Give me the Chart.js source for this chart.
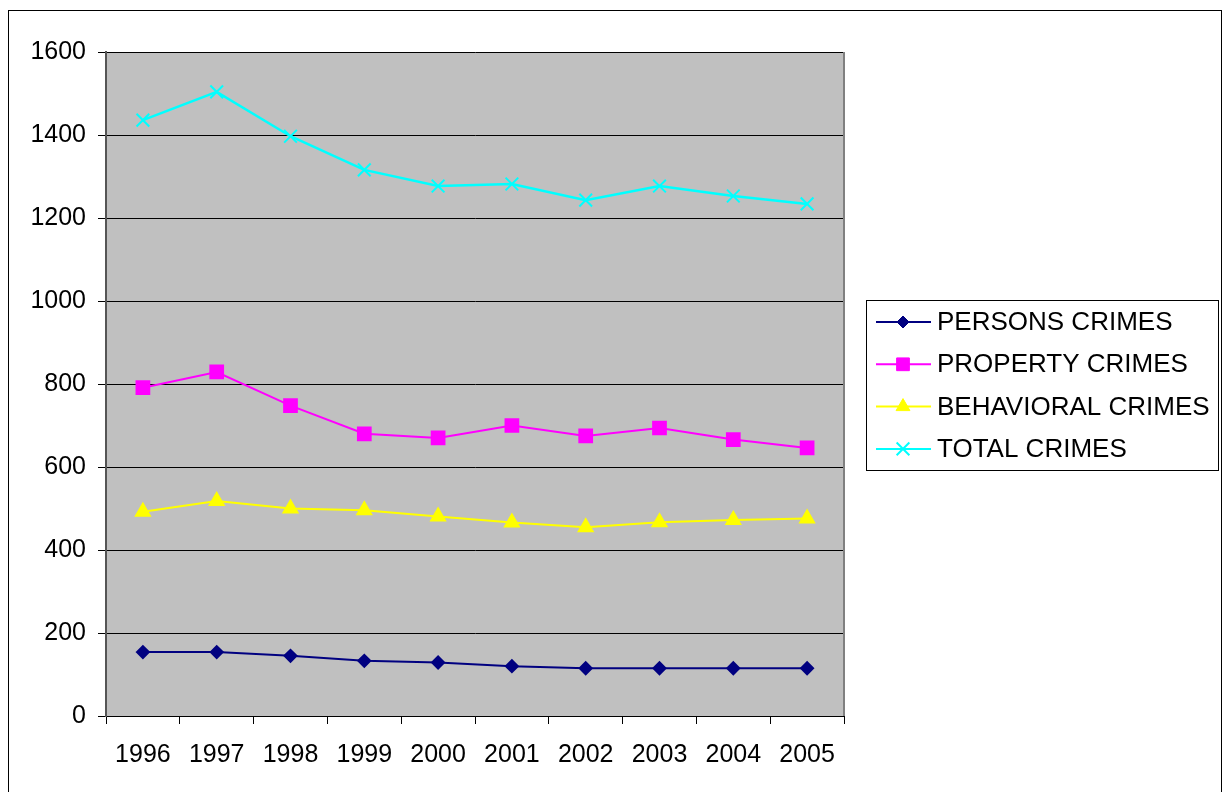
<!DOCTYPE html>
<html>
<head>
<meta charset="utf-8">
<script src="https://cdn.jsdelivr.net/npm/chart.js@4"></script>
<style>
  body { margin: 0; background: #fff; }
  canvas { display: block; }
</style>
</head>
<body>
<canvas id="grafico" width="1225" height="792"></canvas>
<script>
// dados
const anos = ['1996', '1997', '1998', '1999', '2000', '2001', '2002', '2003', '2004', '2005'];
const personsCrimes = [154, 154, 145, 133, 129, 120, 115, 115, 115, 115];
const propertyCrimes = [791, 829, 748, 680, 670, 700, 675, 694, 666, 646];
const behavioralCrimes = [492, 518, 500, 496, 481, 466, 455, 467, 472, 476];
const totalCrimes = [1436, 1504, 1397, 1316, 1277, 1282, 1243, 1277, 1253, 1234];
const marcasY = [0, 200, 400, 600, 800, 1000, 1200, 1400, 1600];

const fonte = 'Liberation Sans, Arial, sans-serif';

// fundo cinza, moldura e legenda desenhada a mao
const moldura = {
    id: 'moldura',
    beforeDraw(chart) {
        const ctx = chart.ctx;
        const a = chart.chartArea;
        ctx.save();
        ctx.fillStyle = '#fff';
        ctx.fillRect(0, 0, chart.width, chart.height);
        ctx.strokeStyle = '#000';
        ctx.lineWidth = 1;
        ctx.strokeRect(8.5, 10.5, 1213, 820);
        ctx.fillStyle = '#c0c0c0';
        ctx.fillRect(a.left, a.top, a.right - a.left, a.bottom - a.top);
        ctx.restore();
    },
    afterDraw(chart) {
        const ctx = chart.ctx;
        const a = chart.chartArea;
        ctx.save();
        ctx.strokeStyle = '#808080';
        ctx.lineWidth = 2;
        ctx.beginPath();
        ctx.moveTo(a.right, a.top);
        ctx.lineTo(a.right, a.bottom);
        ctx.stroke();

        // legenda
        ctx.fillStyle = '#fff';
        ctx.fillRect(866, 300, 352, 170);
        ctx.strokeStyle = '#000';
        ctx.lineWidth = 1;
        ctx.strokeRect(866.5, 300.5, 352, 170);
        ctx.font = '26px ' + fonte;
        ctx.textBaseline = 'middle';
        chart.data.datasets.forEach((ds, i) => {
            const y = 322 + i * 42.3;
            ctx.strokeStyle = ds.borderColor;
            ctx.lineWidth = 2;
            ctx.beginPath();
            ctx.moveTo(876, y);
            ctx.lineTo(931, y);
            ctx.stroke();
            ctx.fillStyle = ds.pointBackgroundColor;
            ctx.strokeStyle = ds.pointBorderColor;
            ctx.lineWidth = ds.pointBorderWidth || 1;
            Chart.helpers.drawPoint(ctx, {
                pointStyle: ds.pointStyle,
                radius: ds.pointRadius,
                borderWidth: ds.pointBorderWidth || 1,
                rotation: 0
            }, 903, y);
            ctx.fillStyle = '#000';
            ctx.fillText(ds.label, 937, y + 1);
        });
        ctx.restore();
    }
};

const ctx = document.getElementById('grafico');
new Chart(ctx, {
    type: 'line',
    data: {
        labels: anos,
        datasets: [
            {
                label: 'PERSONS CRIMES',
                data: personsCrimes,
                borderColor: '#000080',
                backgroundColor: '#000080',
                pointBackgroundColor: '#000080',
                pointBorderColor: '#000080',
                pointStyle: 'rectRot',
                pointRadius: 6,
                borderWidth: 2
            },
            {
                label: 'PROPERTY CRIMES',
                data: propertyCrimes,
                borderColor: '#ff00ff',
                backgroundColor: '#ff00ff',
                pointBackgroundColor: '#ff00ff',
                pointBorderColor: '#ff00ff',
                pointStyle: 'rect',
                pointRadius: 9,
                borderWidth: 2
            },
            {
                label: 'BEHAVIORAL CRIMES',
                data: behavioralCrimes,
                borderColor: '#ffff00',
                backgroundColor: '#ffff00',
                pointBackgroundColor: '#ffff00',
                pointBorderColor: '#ffff00',
                pointStyle: 'triangle',
                pointRadius: 8,
                borderWidth: 2
            },
            {
                label: 'TOTAL CRIMES',
                data: totalCrimes,
                borderColor: '#00ffff',
                backgroundColor: '#00ffff',
                pointBackgroundColor: '#00ffff',
                pointBorderColor: '#00ffff',
                pointStyle: 'crossRot',
                pointRadius: 9,
                pointBorderWidth: 2,
                borderWidth: 2.5
            }
        ]
    },
    options: {
        responsive: false,
        animation: false,
        layout: { padding: { top: 52, right: 381, left: 0, bottom: 0 } },
        plugins: {
            legend: { display: false },
            tooltip: { enabled: false }
        },
        scales: {
            x: {
                offset: true,
                grid: { offset: true, drawOnChartArea: false, color: '#000', tickLength: 8 },
                border: { color: '#000', width: 1 },
                ticks: { color: '#000', font: { family: fonte, size: 25 }, padding: 16, maxRotation: 0 },
                afterFit(scale) { scale.height = 76; }
            },
            y: {
                min: 0,
                max: 1600,
                afterBuildTicks(scale) { scale.ticks = marcasY.map(v => ({ value: v })); },
                grid: { color: '#000', lineWidth: 1, tickLength: 8 },
                border: { color: '#555', width: 2 },
                ticks: {
                    color: '#000',
                    font: { family: fonte, size: 25 },
                    padding: 12,
                    callback: v => String(v)
                },
                afterFit(scale) { scale.width = 106; }
            }
        }
    },
    plugins: [moldura]
});
</script>
</body>
</html>
